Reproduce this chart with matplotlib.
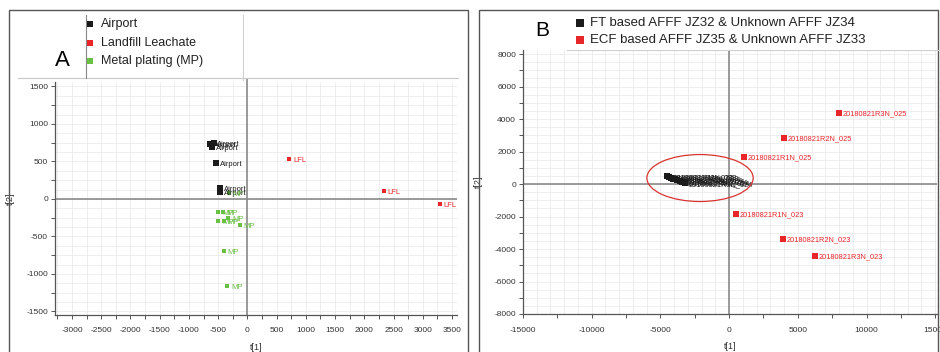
import matplotlib
matplotlib.use("Agg")
import matplotlib.pyplot as plt
from matplotlib.lines import Line2D
from matplotlib.patches import Rectangle, Ellipse
from matplotlib.ticker import MultipleLocator
import numpy as np

plt.rcParams['font.family'] = ['Liberation Sans Narrow', 'Liberation Sans', 'DejaVu Sans']
plt.rcParams['axes.unicode_minus'] = False

# --- panel A data (scores t[1], t[2]) ---
airport_x = [-634, -600, -575, -530, -462, -468]
airport_y = [733, 693, 745, 480, 147, 93]
landfill_x = [719, 2329, 3288]
landfill_y = [533, 107, -67]
plating_x = [-308, -496, -411, -496, -394, -325, -120, -394, -342]
plating_y = [80, -173, -173, -293, -293, -253, -347, -693, -1160]

# --- panel B data ---
ft_x = [-4550, -4400, -4250, -4100, -3950, -3800, -3600, -3400, -3200]
ft_y = [480, 430, 380, 330, 280, 220, 160, 100, 40]
ft_labels = ["20180821R1N_022", "20180821R2N_022", "20180821R3N_022",
             "20180821R1N_024", "20180821R2N_024", "20180821R3N_024",
             "20180821R1N_024", "20180821R2N_024", "20180821R3N_024"]
ecf_x = [8029, 4015, 1095, 511, 3942, 6277]
ecf_y = [4369, 2830, 1660, -1846, -3385, -4430]
ecf_labels = ["20180821R3N_025", "20180821R2N_025", "20180821R1N_025",
              "20180821R1N_023", "20180821R2N_023", "20180821R3N_023"]

BLACK = "#1b1b1b"
RED = "#e8262a"
GREEN = "#6abf45"
GRID = "#ebebeb"
AXC = "#555555"

W, H = 940, 352


def fx(px):
    return px / W


def fy(py):
    return 1 - py / H


fig = plt.figure(figsize=(9.4, 3.52), dpi=100)
fig.patch.set_facecolor("white")


def style_axes(ax):
    for s in ["top", "right"]:
        ax.spines[s].set_visible(False)
    for s in ["left", "bottom"]:
        ax.spines[s].set_color(AXC)
        ax.spines[s].set_linewidth(0.9)
    ax.tick_params(which="both", colors=AXC, labelcolor="#333333",
                   labelsize=6, length=3, width=0.7, pad=2)
    ax.tick_params(axis="x", which="major", pad=6)
    ax.set_axisbelow(True)


def scatter_labeled(ax, xs, ys, labels, color, tcolor, ms=3.4, fs=6):
    ax.plot(xs, ys, "s", color=color, ms=ms, mew=0, zorder=4)
    for x, y, lab in zip(xs, ys, labels):
        ax.annotate(lab, (x, y), xytext=(2.5, -0.8), textcoords="offset points",
                    fontsize=fs, color=tcolor, va="center", ha="left", zorder=5)


# ================= panel A =================
axA = fig.add_axes([fx(55), fy(315), fx(457) - fx(55), fy(82) - fy(315)])
axA.set_xlim(-3291, 3585)
axA.set_ylim(-1547, 1560)
axA.xaxis.set_major_locator(MultipleLocator(500))
axA.xaxis.set_minor_locator(MultipleLocator(250))
axA.yaxis.set_major_locator(MultipleLocator(500))
axA.yaxis.set_minor_locator(MultipleLocator(250))
axA.grid(which="both", color=GRID, lw=0.6)
for v in np.arange(-1375, 1560, 250):
    axA.axhline(v, color=GRID, lw=0.6, zorder=0)
style_axes(axA)
axA.set_xticks([-3000, -2500, -2000, -1500, -1000, -500, 0, 500, 1000, 1500,
                2000, 2500, 3000, 3500])
axA.axhline(0, color="#8a8a8a", lw=1.2, zorder=1)
axA.axvline(0, color="#8a8a8a", lw=1.2, zorder=1, clip_on=False, ymax=1.015)
axA.set_xlabel("t[1]", fontsize=6.5, color="#333333", labelpad=6)
axA.set_ylabel("t[2]", fontsize=6.5, color="#333333", labelpad=8)

scatter_labeled(axA, airport_x, airport_y, ["Airport"] * len(airport_x), BLACK, BLACK, ms=3.8, fs=5.5)
scatter_labeled(axA, landfill_x, landfill_y, ["LFL"] * len(landfill_x), RED, RED, fs=5.5)
scatter_labeled(axA, plating_x, plating_y, ["MP"] * len(plating_x), GREEN, GREEN, fs=5.5)

# ================= panel B =================
axB = fig.add_axes([fx(523), fy(314), fx(937) - fx(523), fy(50) - fy(314)])
axB.set_xlim(-15000, 15130)
axB.set_ylim(-8000, 8250)
axB.xaxis.set_major_locator(MultipleLocator(5000))
axB.xaxis.set_minor_locator(MultipleLocator(2500))
axB.yaxis.set_major_locator(MultipleLocator(2000))
axB.yaxis.set_minor_locator(MultipleLocator(1000))
for v in np.arange(-15000, 15200, 1000):
    axB.axvline(v, color=GRID, lw=0.6, zorder=0)
for v in np.arange(-8000, 8300, 500):
    axB.axhline(v, color=GRID, lw=0.6, zorder=0)
style_axes(axB)
axB.axhline(0, color="#8a8a8a", lw=1.2, zorder=1)
axB.axvline(0, color="#8a8a8a", lw=1.2, zorder=1)
axB.set_xlabel("t[1]", fontsize=6.5, color="#333333", labelpad=6)
axB.set_ylabel("t[2]", fontsize=6.5, color="#333333", labelpad=8)

scatter_labeled(axB, ft_x, ft_y, ft_labels, BLACK, BLACK, ms=4, fs=5.3)
scatter_labeled(axB, ecf_x, ecf_y, ecf_labels, RED, RED, ms=4, fs=5.3)
axB.add_patch(Ellipse((-2117, 370), 7737, 2892, fill=False, ec="#d9332f",
                      lw=0.9, zorder=6))

# ================= panel frames and legends =================
fig.patches.append(Rectangle((fx(9), -0.1), fx(468) - fx(9), fy(10) + 0.1,
                             transform=fig.transFigure, fill=False,
                             ec="#555555", lw=1.0))
fig.patches.append(Rectangle((fx(479), -0.1), fx(938) - fx(479), fy(10) + 0.1,
                             transform=fig.transFigure, fill=False,
                             ec="#555555", lw=1.0))

# legend separators
fig.add_artist(Line2D([fx(18), fx(458)], [fy(78), fy(78)], color="#c8c8c8", lw=0.8))
fig.add_artist(Line2D([fx(86), fx(86)], [fy(15), fy(78)], color="#888888", lw=0.8))
fig.add_artist(Line2D([fx(243), fx(243)], [fy(15), fy(80)], color="#d0d0d0", lw=0.8))
fig.add_artist(Line2D([fx(567), fx(938)], [fy(50), fy(50)], color="#d0d0d0", lw=0.8))

legA = [("Airport", BLACK), ("Landfill Leachate", RED), ("Metal plating (MP)", GREEN)]
for i, (name, col) in enumerate(legA):
    yy = 24 + i * 18.5
    fig.add_artist(Line2D([fx(90)], [fy(yy)], marker="s", ms=5, color=col, mew=0))
    fig.text(fx(101), fy(yy), name, fontsize=9, color="#222222", va="center",
             family=["Liberation Sans", "DejaVu Sans"])
fig.text(fx(62), fy(61), "A", fontsize=16, ha="center", va="center",
         family=["Liberation Sans", "DejaVu Sans"])

legB = [("FT based AFFF JZ32 & Unknown AFFF JZ34", BLACK),
        ("ECF based AFFF JZ35 & Unknown AFFF JZ33", RED)]
for i, (name, col) in enumerate(legB):
    yy = 23 + i * 17
    fig.add_artist(Line2D([fx(580)], [fy(yy)], marker="s", ms=5.5, color=col, mew=0))
    fig.text(fx(590), fy(yy), name, fontsize=9.5, color="#222222", va="center",
             family=["Liberation Sans", "DejaVu Sans"])
fig.text(fx(542), fy(31), "B", fontsize=15, ha="center", va="center",
         family=["Liberation Sans", "DejaVu Sans"])

fig.savefig("out.png", dpi=100)
